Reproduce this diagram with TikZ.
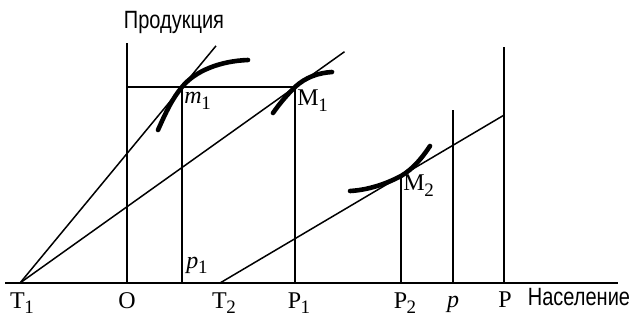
\documentclass[tikz,border=0pt]{standalone}
\usepackage{fontspec}
\setmainfont{Liberation Serif}
\newfontfamily\axfont{Liberation Sans}
\usetikzlibrary{calc}
\newcommand\lsub[2]{#1\kern-0.2pt\raisebox{-0.5ex}{\fontsize{9.5}{10}\selectfont #2}}
\begin{document}
\begin{tikzpicture}[x=0.5pt,y=-0.5pt,
  thinln/.style={line width=0.75pt},
  thick curve/.style={line width=2.3pt, line cap=round},
  lbl/.style={inner sep=0pt, font=\fontsize{12}{14}\selectfont},
  axlbl/.style={inner sep=0pt, font=\axfont\fontsize{12.5}{14}\selectfont}]
\path[use as bounding box] (0,0) rectangle (630,320);
% baseline points
\coordinate (L) at (5,283);
\coordinate (R) at (618,283);
\coordinate (T1) at (20,283);
\coordinate (O) at (127,283);
\coordinate (p1) at (182,283);
\coordinate (T2) at (220,283);
\coordinate (P1) at (295,283);
\coordinate (P2) at (401,283);
\coordinate (p) at (453,283);
\coordinate (P) at (504,283);
% upper points
\coordinate (Otop) at (127,43);
\coordinate (ptop) at (453,110);
\coordinate (Ptop) at (504,47);
\coordinate (m1) at (182,87);
\coordinate (M1) at (295,87);
\coordinate (M2) at (401,176);
\coordinate (e1) at ($(T1)!1.21!(m1)$);
\coordinate (e2) at ($(T1)!1.18!(M1)$);
\coordinate (e3) at ($(T2)!1.569!(M2)$);
% axes and verticals
\draw[thinln] (L) -- (R);
\draw[thinln] (O) -- (Otop);
\draw[thinln] (p1) -- (m1);
\draw[thinln] (P1) -- (M1);
\draw[thinln] (P2) -- (M2);
\draw[thinln] (p) -- (ptop);
\draw[thinln] (P) -- (Ptop);
\draw[thinln] (O|-m1) -- (M1);
% rays
\draw[thinln] (T1) -- (e1);
\draw[thinln] (T1) -- (e2);
\draw[thinln] (T2) -- (e3);
% thick curves
\draw[thick curve] (158,130) .. controls (166,112) and (172,99) .. (m1)
  .. controls (195,71) and (220,61) .. (248,60);
\draw[thick curve] (273,113) .. controls (280,103) and (287,95) .. (M1)
  .. controls (306,77) and (318,73) .. (332,72);
\draw[thick curve] (350,191) .. controls (368,190) and (386,184) .. (M2)
  .. controls (413,169) and (422,158) .. (430,146);
% point labels
\node[lbl, anchor=base west] (lm1) at (184,104) {\lsub{\textit{m}}{1}};
\node[lbl, anchor=base west] (lM1) at (297,106) {\lsub{M}{1}};
\node[lbl, anchor=base west] (lM2) at (403,191) {\lsub{M}{2}};
\node[lbl, anchor=base west] (lp1) at (186,268) {\lsub{\textit{p}}{1}};
% axis labels
\node[lbl, anchor=base] (lT1) at (22,308) {\lsub{T}{1}};
\node[lbl, anchor=base] (lO) at (127,308) {O};
\node[lbl, anchor=base] (lT2) at (224,308) {\lsub{T}{2}};
\node[lbl, anchor=base] (lP1) at (299,308) {\lsub{P}{1}};
\node[lbl, anchor=base] (lP2) at (405,308) {\lsub{P}{2}};
\node[lbl, anchor=base] (lp) at (453,307) {\textit{p}};
\node[lbl, anchor=base] (lP) at (505,307) {P};
\node[axlbl] (prod) at (174,22) {\scalebox{0.8}[1]{Продукция}};
\node[axlbl] (nas) at (579,297) {\scalebox{0.8}[1]{Население}};
\end{tikzpicture}
\end{document}
